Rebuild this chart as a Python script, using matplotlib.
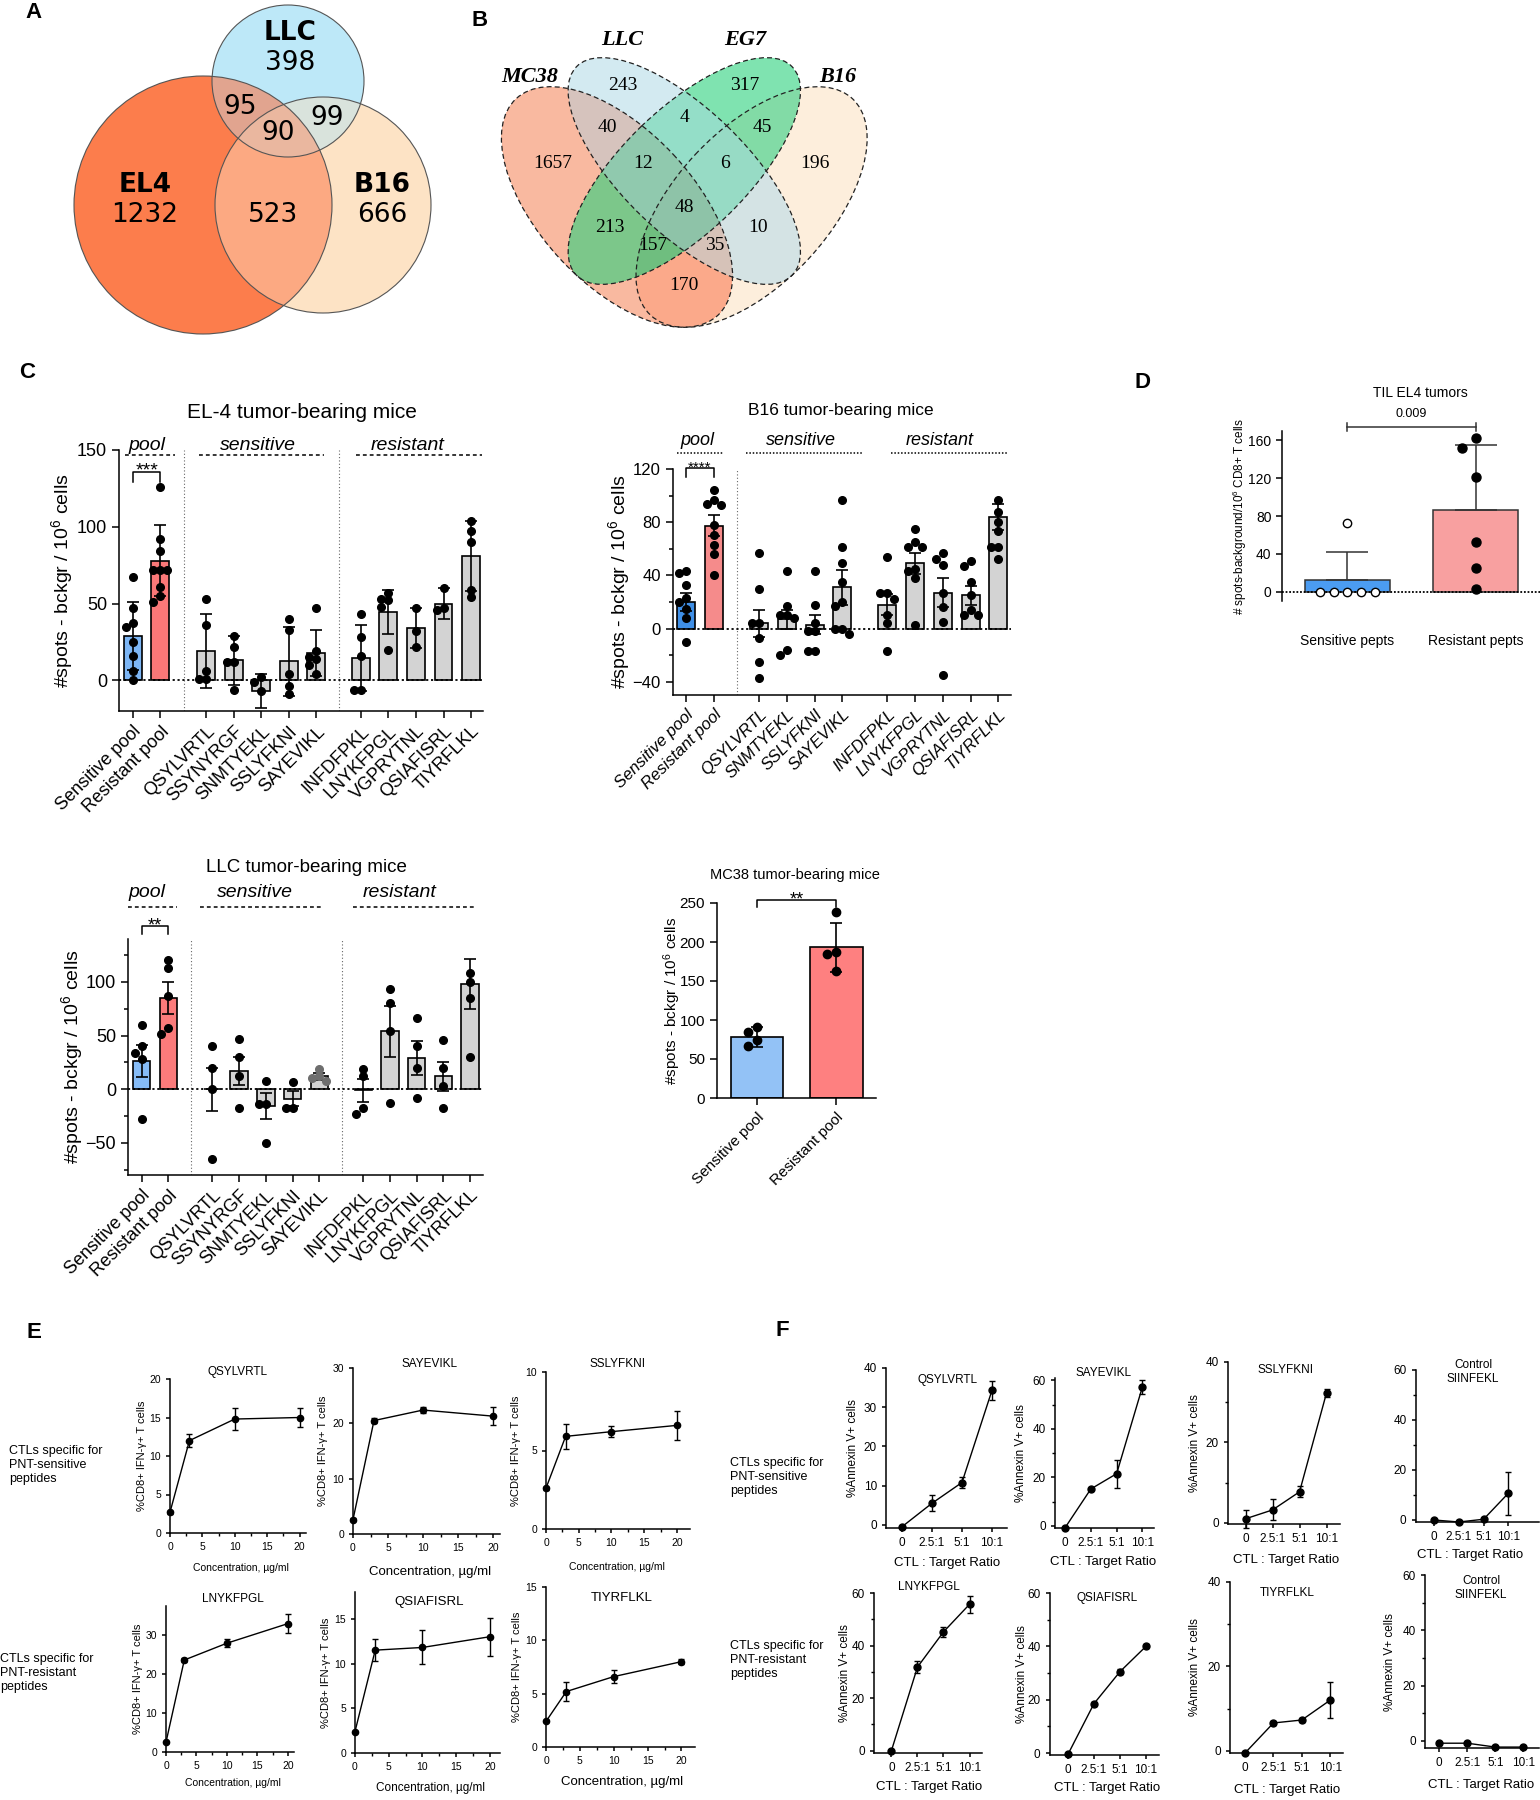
import numpy as np
import matplotlib
matplotlib.use('Agg')
import matplotlib.pyplot as plt
from matplotlib.patches import Circle, Ellipse
from matplotlib.colors import to_rgba
from matplotlib.ticker import MultipleLocator
from matplotlib.transforms import blended_transform_factory, offset_copy

plt.rcParams['font.family'] = ['Liberation Sans', 'DejaVu Sans']
plt.rcParams['mathtext.fontset'] = 'custom'
plt.rcParams['mathtext.rm'] = 'Liberation Sans'
plt.rcParams['mathtext.it'] = 'Liberation Sans:italic'
plt.rcParams['axes.linewidth'] = 1.1

#------------------------------------------------------
# data
#------------------------------------------------------
# A : venn EL4 / LLC / B16  (code = EL4 LLC B16)
venn3_sets = ['EL4', 'LLC', 'B16']
venn3_regions = ['100', '010', '001', '110', '101', '011', '111']
venn3_counts = [1232, 398, 666, 95, 523, 99, 90]

# B : venn MC38 / LLC / EG7 / B16
venn4_sets = ['MC38', 'LLC', 'EG7', 'B16']
venn4_regions = ['1000', '0100', '0010', '0001', '1100', '0110', '0011', '1010',
                 '0101', '1001', '1110', '0111', '1011', '1101', '1111']
venn4_counts = [1657, 243, 317, 196, 40, 4, 45, 213, 10, 170, 12, 6, 157, 35, 48]

# C : ELISpot
el4_labels = ['Sensitive pool', 'Resistant pool', 'QSYLVRTL', 'SSYNYRGF', 'SNMTYEKL',
              'SSLYFKNI', 'SAYEVIKL', 'INFDFPKL', 'LNYKFPGL', 'VGPRYTNL', 'QSIAFISRL', 'TIYRFLKL']
el4_mean = [29, 78, 19, 13, -7, 12.5, 18, 14.5, 44.5, 34, 50, 81]
el4_err = [22, 23, 24, 16, 11, 22.5, 15, 21.5, 14.5, 13, 10, 23]
el4_pts = [[67, 47, 37, 35, 25, 16, 6, 0], [126, 92, 84, 72, 72, 72, 61, 55, 51],
           [53, 36, 6, 1, 1], [29, 22, 12, 12, -6], [2, -1, -7], [40, 33, 4, -4, -9],
           [47, 19, 15, 14, 10, 4], [43, 28, 16, -6, -6], [57, 53, 52, 48, 20],
           [47, 32, 22], [60, 47, 46], [104, 97, 90, 59, 54]]

b16_labels = ['Sensitive pool', 'Resistant pool', 'QSYLVRTL', 'SNMTYEKL', 'SSLYFKNI',
              'SAYEVIKL', 'INFDFPKL', 'LNYKFPGL', 'VGPRYTNL', 'QSIAFISRL', 'TIYRFLKL']
b16_mean = [20, 77.5, 4, 7, 3, 31, 18, 49, 27, 25, 84]
b16_err = [7, 8, 10, 7, 7, 13, 8, 8, 11, 7, 10]
b16_pts = [[43, 42, 33, 23, 20, 15, 8, -10], [104, 97, 94, 93, 78, 70, 63, 56, 40],
           [57, 30, 4, 4, -7, -25, -37], [43, 17, 10, 10, 8, -16, -20],
           [43, 18, 4, -2, -2, -17, -17], [97, 61, 49, 35, 20, 17, 0, 0, -4],
           [54, 27, 27, 22, 10, 4, -17], [75, 65, 61, 61, 45, 43, 38, 3],
           [57, 52, 48, 27, 16, 5, -35], [51, 47, 35, 25, 14, 10, 10],
           [97, 88, 80, 73, 61, 61, 52]]

llc_labels = el4_labels
llc_mean = [26, 85, 0, 17, -16, -9, 12, -1, 54, 29, 12, 98]
llc_err = [15, 14.5, 20, 13, 12, 7, 3, 10.5, 24, 15.5, 13.5, 23]
llc_pts = [[60, 40, 34, 28, -28], [120, 113, 87, 57, 51], [40, 20, 0, -65], [47, 30, 12, -18],
           [8, -14, -14, -50], [7, -18, -18], [19, 12, 10, 8], [19, 12, -18, -23],
           [93, 80, 54, -13], [66, 40, 20, -8], [46, 20, 3, -18], [108, 100, 85, 30]]

mc38_labels = ['Sensitive pool', 'Resistant pool']
mc38_mean = [78, 193]
mc38_err = [12.5, 31.5]
mc38_pts = [[91, 85, 75, 67], [238, 187, 185, 163]]

# D : TIL EL4
til_labels = ['Sensitive pepts', 'Resistant pepts']
til_mean = [12, 86]
til_err_up = [30, 69]
til_pts = [[73, 0, 0, 0, 0, 0], [163, 152, 121, 53, 25, 3]]

# E : IFN-g vs peptide concentration
conc = [0, 3, 10, 20]
ifn_names = ['QSYLVRTL', 'SAYEVIKL', 'SSLYFKNI', 'LNYKFPGL', 'QSIAFISRL', 'TIYRFLKL']
ifn_vals = [[2.7, 12.0, 14.8, 15.0], [2.6, 20.5, 22.4, 21.3], [2.6, 5.9, 6.2, 6.6],
            [2.5, 23.5, 27.8, 32.8], [2.4, 11.5, 11.8, 13.0], [2.4, 5.2, 6.6, 8.0]]
ifn_err = [[0.2, 0.8, 1.4, 1.2], [0.3, 0.4, 0.5, 1.6], [0.1, 0.8, 0.35, 0.9],
           [0.1, 0.5, 1.1, 2.4], [0.1, 1.2, 1.9, 2.1], [0.1, 0.85, 0.6, 0.25]]

# F : killing vs CTL:target ratio
ratio_labels = ['0', '2.5:1', '5:1', '10:1']
kill_names = ['QSYLVRTL', 'SAYEVIKL', 'SSLYFKNI', 'Control\nSIINFEKL',
              'LNYKFPGL', 'QSIAFISRL', 'TIYRFLKL', 'Control\nSIINFEKL']
kill_vals = [[-0.5, 5.5, 10.8, 34.3], [-0.8, 15.2, 21.5, 57.3], [1.0, 3.2, 7.7, 32.3],
             [0.0, -0.8, 0.3, 10.7], [0.0, 31.8, 45.2, 55.7], [-0.5, 18.5, 30.5, 40.0],
             [-0.5, 6.6, 7.3, 12.0], [-0.8, -0.8, -2.2, -2.2]]
kill_err = [[0.3, 2.0, 1.3, 2.5], [0.3, 0.5, 5.7, 2.8], [2.3, 2.6, 1.4, 1.1],
            [0.3, 0.2, 0.3, 8.5], [0.3, 2.2, 2.0, 3.2], [0.2, 0.7, 0.9, 0.8],
            [0.3, 0.5, 0.5, 4.3], [0.5, 0.3, 0.3, 0.4]]

#------------------------------------------------------
# helpers
#------------------------------------------------------
W, H = 1540, 1800
fig = plt.figure(figsize=(W / 100, H / 100), dpi=100)
bg = fig.add_axes([0, 0, 1, 1])
bg.set_zorder(-5)


def px_axes(box):
    l, t, r, b = box
    ax = fig.add_axes([l / W, 1 - b / H, (r - l) / W, (b - t) / H])
    ax.set_facecolor('none')
    return ax


def frac(box, x, y):
    l, t, r, b = box
    return (x - l) / (r - l), (b - y) / (b - t)


def put_ylabel(ax, box, text, xc, fs):
    ax.set_ylabel(text, fontsize=fs, va='center', ha='center')
    ax.yaxis.set_label_coords(*frac(box, xc, (box[1] + box[3]) / 2))


def put_xlabel(ax, box, text, xc, yc, fs):
    ax.set_xlabel(text, fontsize=fs, va='center', ha='center')
    ax.xaxis.set_label_coords(*frac(box, xc, yc))


def put_title(ax, box, text, x, y, fs, **kw):
    ax.text(*frac(box, x, y), text, transform=ax.transAxes, ha='center', va='center',
            fontsize=fs, clip_on=False, **kw)


def swarm_x(ax, x0, vals, gap):
    placed, out = [], []
    inv = ax.transData.inverted()
    for v in vals:
        px0, py = ax.transData.transform((x0, v))
        for k in (0, -1, 1, -2, 2, -3, 3, -4, 4):
            cand = px0 + k * gap
            if all(np.hypot(cand - qx, py - qy) >= gap * 0.999 for qx, qy in placed):
                break
        placed.append((cand, py))
        out.append(inv.transform((cand, py))[0])
    return out


def paint_regions(masks, regions, colors, x0, x1, y0, y1):
    img = np.zeros(masks[0].shape + (4,))
    for code, col in zip(regions, colors):
        sel = np.ones(masks[0].shape, bool)
        for m, bit in zip(masks, code):
            sel &= m if bit == '1' else ~m
        img[sel] = to_rgba(col)
    bg.imshow(img, extent=(x0, x1, y1, y0), aspect='auto', interpolation='bilinear', zorder=1)


def group_pos(sizes, starts):
    pos = []
    for n, s in zip(sizes, starts):
        pos += [s + i for i in range(n)]
    return pos


def group_heads(ax, spans, text_x, names, y_line, y_text, ls, fs):
    tr = blended_transform_factory(ax.transData, ax.transAxes)
    for (a, b), tx, name in zip(spans, text_x, names):
        ax.plot([a, b], [y_line, y_line], color='black', lw=1.1, ls=ls, transform=tr, clip_on=False)
        ax.text(tx, y_text, name, transform=tr, ha='center', va='center', style='italic', fontsize=fs)


def sig_bracket(ax, x0, x1, y_top, y_bot, label, fs):
    tr = blended_transform_factory(ax.transData, ax.transAxes)
    ax.plot([x0, x0, x1, x1], [y_bot, y_top, y_top, y_bot], color='black', lw=1.1,
            transform=tr, clip_on=False)
    # asterisks sit high in the glyph box: put the baseline just under the bracket
    tr_txt = offset_copy(tr, fig=fig, y=-4, units='dots')
    ax.text((x0 + x1) / 2, y_top, label, transform=tr_txt, ha='center', va='baseline', fontsize=fs)


def bar_dots(ax, pos, means, errs, pts, colors, gap, ms, width=0.65, dot_colors=None, lw=1.2):
    ax.bar(pos, means, width=width, color=colors, edgecolor='black', linewidth=lw, zorder=2)
    ax.errorbar(pos, means, yerr=errs, fmt='none', ecolor='black', elinewidth=lw,
                capsize=4, capthick=lw, zorder=3)
    for i, (x0, vals) in enumerate(zip(pos, pts)):
        dc = dot_colors[i] if dot_colors else 'black'
        ax.plot(swarm_x(ax, x0, vals, gap), vals, 'o', color=dc, ms=ms, zorder=4, clip_on=False)


def style_axes(ax, fs, tick_len=5):
    for s in ('top', 'right'):
        ax.spines[s].set_visible(False)
    ax.tick_params(labelsize=fs, length=tick_len, width=1.1)


#------------------------------------------------------
# A, B : venn diagrams (drawn in pixel space)
#------------------------------------------------------
venn3_circles = [(203, 205, 129), (288, 81, 76), (323, 205, 108)]
venn3_colors = ['#fc7d4c', '#bde8f8', '#fde3c5', '#e1a48f', '#fca982', '#d9e3dc', '#eab79f']
venn3_xy = [(145, 215), (290, 63), (382, 215), (240, 107), (273, 215), (327, 118), (278, 133)]
venn3_name_xy = [(145, 185), (290, 33), (382, 185)]

X, Y = np.meshgrid(np.arange(50, 450) + 0.5, np.arange(0, 345) + 0.5)
masks = [(X - cx) ** 2 + (Y - cy) ** 2 <= r ** 2 for cx, cy, r in venn3_circles]
paint_regions(masks, venn3_regions, venn3_colors, 50, 450, 0, 345)
for cx, cy, r in venn3_circles:
    bg.add_patch(Circle((cx, cy), r, fill=False, ec='#555555', lw=0.8, zorder=2))
for (x, y), n in zip(venn3_xy, venn3_counts):
    bg.text(x, y, str(n), ha='center', va='center', fontsize=19, family='DejaVu Sans', zorder=3)
for (x, y), n in zip(venn3_name_xy, venn3_sets):
    bg.text(x, y, n, ha='center', va='center', fontsize=19, family='DejaVu Sans',
            weight='bold', zorder=3)

venn4_ell = [(617, 207, 148, 77, 47), (684.3, 171, 150, 62, 44),
             (684.3, 171, 150, 62, -44), (751.6, 207, 148, 77, -47)]
venn4_colors = ['#f9b9a0', '#d3eaf1', '#7fe3b0', '#fdeedc', '#d6c3bd', '#94dec8', '#82dba6',
                '#7cc78a', '#d4e3e4', '#fba98a', '#90c9ae', '#97dbc5', '#6fbe7f', '#d6c2b8', '#8ec3a8']
venn4_xy = [(553, 163), (623, 86), (745, 86), (815, 163), (607, 127), (684, 118), (762, 127),
            (610, 228), (758, 228), (684, 285), (643, 163), (725, 163), (653, 245), (715, 245),
            (684, 208)]
venn4_name_xy = [(530, 77), (622, 40), (745, 40), (838, 77)]

X, Y = np.meshgrid(np.arange(440, 890) + 0.5, np.arange(40, 345) + 0.5)
masks = []
for cx, cy, a, b, ang in venn4_ell:
    t = np.deg2rad(ang)
    u = (X - cx) * np.cos(t) + (Y - cy) * np.sin(t)
    v = -(X - cx) * np.sin(t) + (Y - cy) * np.cos(t)
    masks.append((u / a) ** 2 + (v / b) ** 2 <= 1)
paint_regions(masks, venn4_regions, venn4_colors, 440, 890, 40, 345)
for cx, cy, a, b, ang in venn4_ell:
    bg.add_patch(Ellipse((cx, cy), 2 * a, 2 * b, angle=ang, fill=False, ec='#222222',
                         lw=0.9, ls=(0, (4, 2.5)), zorder=2))
for (x, y), n in zip(venn4_xy, venn4_counts):
    bg.text(x, y, str(n), ha='center', va='center', fontsize=14, family='Liberation Serif', zorder=3)
for (x, y), n in zip(venn4_name_xy, venn4_sets):
    bg.text(x, y, n, ha='center', va='center', fontsize=16, family='Liberation Serif',
            weight='bold', style='italic', zorder=3)

#------------------------------------------------------
# C : EL-4
#------------------------------------------------------
box = (119, 450, 483, 711)
ax = px_axes(box)
pos = group_pos([2, 5, 5], [0, 2.65, 8.25])
ax.set_xlim(-0.5, 12.68)
ax.set_ylim(-20, 150)
ax.set_yticks([0, 50, 100, 150])
style_axes(ax, 13)
ax.axhline(0, color='black', lw=1.3, ls=(0, (1.2, 1.5)), zorder=2.5)
for xv in (1.85, 7.45):
    ax.axvline(xv, color='#666666', lw=0.8, ls=(0, (1, 2)), zorder=1)
bar_dots(ax, pos, el4_mean, el4_err, el4_pts, ['#7db6f5', '#fa7878'] + ['#d3d3d3'] * 10, 7, 5.5)
ax.set_xticks(pos)
ax.set_xticklabels(el4_labels, rotation=45, ha='right', rotation_mode='anchor', fontsize=13)
put_ylabel(ax, box, '#spots - bckgr / 10$^6$ cells', 62, 14)
put_title(ax, box, 'EL-4 tumor-bearing mice', 302, 413, 15)
group_heads(ax, [(-0.29, 1.52), (2.39, 6.92), (8.08, 12.64)], [0.51, 4.53, 9.96],
            ['pool', 'sensitive', 'resistant'], 0.981, 1.017, (0, (2.5, 2)), 14)
sig_bracket(ax, 0, 1, 0.916, 0.877, '***', 14)

#------------------------------------------------------
# C : B16
#------------------------------------------------------
box = (672.5, 469, 1011, 695)
ax = px_axes(box)
pos = group_pos([2, 4, 5], [0, 2.64, 7.27])
ax.set_xlim(-0.49, 11.73)
ax.set_ylim(-50, 120)
ax.set_yticks([-40, 0, 40, 80, 120])
ax.yaxis.set_minor_locator(MultipleLocator(20))
style_axes(ax, 12)
ax.tick_params(which='minor', length=3, width=1.1)
ax.axhline(0, color='black', lw=1.3, ls=(0, (1.2, 1.5)), zorder=2.5)
ax.axvline(1.84, color='#666666', lw=0.8, ls=(0, (1, 2)), zorder=1)
bar_dots(ax, pos, b16_mean, b16_err, b16_pts, ['#3f8fe6', '#f58b8b'] + ['#d3d3d3'] * 9, 7, 5.5)
ax.set_xticks(pos)
ax.set_xticklabels(b16_labels, rotation=45, ha='right', rotation_mode='anchor',
                   fontsize=12, style='italic')
put_ylabel(ax, box, '#spots - bckgr / 10$^6$ cells', 619, 14)
put_title(ax, box, 'B16 tumor-bearing mice', 841, 410, 12.5)
group_heads(ax, [(-0.31, 1.37), (2.15, 6.35), (7.4, 11.62)], [0.42, 4.14, 9.17],
            ['pool', 'sensitive', 'resistant'], 1.071, 1.128, (0, (1, 1.2)), 13)
sig_bracket(ax, 0, 1, 1.004, 0.965, '****', 11)

#------------------------------------------------------
# D : TIL EL4
#------------------------------------------------------
box = (1282, 431, 1540, 601)
ax = px_axes(box)
ax.set_xlim(-0.51, 1.5)
ax.set_ylim(-10, 170)
ax.set_yticks([0, 40, 80, 120, 160])
style_axes(ax, 10, 4)
ax.spines['bottom'].set_visible(False)
ax.axhline(0, color='black', lw=1.3, ls=(0, (1, 1)), zorder=2.5)
ax.bar([0, 1], til_mean, width=0.66, color=['#4b9cf2', '#f8a0a0'], edgecolor='#333333', lw=1.1, zorder=2)
ax.errorbar([0, 1], til_mean, yerr=[[0, 0], til_err_up], fmt='none', ecolor='#333333',
            elinewidth=1.1, capsize=15, capthick=1.1, zorder=3)
ax.plot(swarm_x(ax, 0, til_pts[0], 13.7), til_pts[0], 'o', mfc='white', mec='black',
        mew=1, ms=6, zorder=4, clip_on=False)
ax.plot(swarm_x(ax, 1, til_pts[1], 13.7), til_pts[1], 'o', color='black', ms=6.5, zorder=4, clip_on=False)
ax.set_xticks([0, 1])
ax.set_xticklabels(til_labels, fontsize=10)
ax.tick_params(axis='x', length=0, pad=24)
put_ylabel(ax, box, '# spots-background/10$^6$ CD8+ T cells', 1240, 8.5)
put_title(ax, box, 'TIL EL4 tumors', 1420, 393, 10)
tr = blended_transform_factory(ax.transData, ax.transAxes)
ax.plot([0, 1], [1.024, 1.024], color='#333333', lw=1.1, transform=tr, clip_on=False)
for xv in (0, 1):
    ax.plot([xv, xv], [1.0, 1.048], color='#333333', lw=1.1, transform=tr, clip_on=False)
ax.text(0.5, 1.10, '0.009', transform=tr, ha='center', va='center', fontsize=9)

#------------------------------------------------------
# C : LLC
#------------------------------------------------------
box = (128, 939, 483, 1175)
ax = px_axes(box)
pos = group_pos([2, 5, 5], [0, 2.65, 8.3])
ax.set_xlim(-0.51, 12.78)
ax.set_ylim(-80, 140)
ax.set_yticks([-50, 0, 50, 100])
ax.yaxis.set_minor_locator(MultipleLocator(25))
style_axes(ax, 13)
ax.tick_params(which='minor', length=3, width=1.1)
ax.axhline(0, color='black', lw=1.3, ls=(0, (1.2, 1.5)), zorder=2.5)
for xv in (1.84, 7.49):
    ax.axvline(xv, color='#666666', lw=0.8, ls=(0, (1, 2)), zorder=1)
bar_dots(ax, pos, llc_mean, llc_err, llc_pts, ['#86bcf7', '#fb7b7b'] + ['#d3d3d3'] * 10, 7, 5.5,
         dot_colors=['black'] * 6 + ['#6e6e6e'] + ['black'] * 5)
ax.set_xticks(pos)
ax.set_xticklabels(llc_labels, rotation=45, ha='right', rotation_mode='anchor', fontsize=13)
put_ylabel(ax, box, '#spots - bckgr / 10$^6$ cells', 72, 14)
put_title(ax, box, 'LLC tumor-bearing mice', 306, 868, 13.5)
group_heads(ax, [(-0.51, 1.32), (2.18, 6.79), (7.91, 12.52)], [0.2, 4.24, 9.67],
            ['pool', 'sensitive', 'resistant'], 1.136, 1.195, (0, (2.5, 2)), 14)
sig_bracket(ax, 0, 1, 1.055, 1.021, '**', 13)

#------------------------------------------------------
# C : MC38
#------------------------------------------------------
box = (717, 903, 876, 1098)
ax = px_axes(box)
ax.set_xlim(-0.506, 1.5)
ax.set_ylim(0, 250)
ax.set_yticks(range(0, 251, 50))
style_axes(ax, 11)
bar_dots(ax, [0, 1], mc38_mean, mc38_err, mc38_pts, ['#93c2f6', '#fe8080'], 9, 6, width=0.66)
ax.set_xticks([0, 1])
ax.set_xticklabels(mc38_labels, rotation=45, ha='right', rotation_mode='anchor', fontsize=11)
put_ylabel(ax, box, '#spots - bckgr / 10$^6$ cells', 672, 11)
put_title(ax, box, 'MC38 tumor-bearing mice', 795, 875, 10.5)
sig_bracket(ax, 0, 1, 1.015, 0.979, '**', 13)

#------------------------------------------------------
# E : IFN-g
#------------------------------------------------------
ifn_boxes = [(170, 1379, 306, 1533), (353, 1368, 500, 1534), (546, 1372, 690, 1529),
             (166, 1606, 294, 1752), (355, 1592, 500, 1753), (546, 1587, 695, 1747)]
ifn_xlim = [21, 21, 22, 21, 21.5, 22]
ifn_ylim = [20, 30, 10, 37.3, 18, 15]
ifn_yticks = [[0, 5, 10, 15, 20], [0, 10, 20, 30], [0, 5, 10], [0, 10, 20, 30],
              [0, 5, 10, 15], [0, 5, 10, 15]]
ifn_title_xy = [(238, 1372), (430, 1364), (617, 1364), (233, 1599), (429, 1602), (622, 1598)]
ifn_title_fs = [8.5, 8.5, 8.5, 8.5, 9.5, 9.5]
ifn_xlab = [(241, 1568, 7.5), (430, 1572, 9.5), (617, 1567, 7.5),
            (233, 1783, 7.5), (430, 1788, 8.5), (622, 1782, 9.5)]
ifn_ylab_x = [142, 323, 516, 138, 326, 517.5]

for i in range(6):
    box = ifn_boxes[i]
    ax = px_axes(box)
    ax.set_xlim(0, ifn_xlim[i])
    ax.set_ylim(0, ifn_ylim[i])
    ax.set_xticks([0, 5, 10, 15, 20])
    ax.xaxis.set_minor_locator(MultipleLocator(2.5))
    ax.set_yticks(ifn_yticks[i])
    style_axes(ax, 7.5, 3)
    ax.tick_params(which='minor', length=2, width=1)
    ax.errorbar(conc, ifn_vals[i], yerr=ifn_err[i], fmt='-o', color='black', ms=4.5, lw=1,
                elinewidth=1, capsize=2.5, capthick=1, clip_on=False, zorder=3)
    put_title(ax, box, ifn_names[i], *ifn_title_xy[i], ifn_title_fs[i])
    put_xlabel(ax, box, 'Concentration, µg/ml', ifn_xlab[i][0], ifn_xlab[i][1], ifn_xlab[i][2])
    put_ylabel(ax, box, '%CD8+ IFN-γ+ T cells', ifn_ylab_x[i], 8)

#------------------------------------------------------
# F : Annexin V killing
#------------------------------------------------------
kill_boxes = [(886, 1368, 1007, 1528), (1055, 1378, 1154, 1528), (1228, 1362, 1340, 1524),
              (1415.6, 1370, 1538.5, 1522), (874, 1593, 981.5, 1753), (1049.5, 1593, 1159, 1755),
              (1230, 1581.7, 1343, 1753), (1425, 1575, 1538.5, 1748.3)]
kill_xlim = [(-0.53, 3.5), (-0.39, 3.45), (-0.65, 3.5), (-0.75, 4.22),
             (-0.67, 3.46), (-0.71, 3.5), (-0.53, 3.45), (-0.51, 3.54)]
kill_ylim = [(-0.8, 40), (-0.9, 61), (-0.3, 40), (-0.8, 60),
             (-0.9, 60), (-0.75, 60), (-0.5, 40), (-2.64, 60)]
kill_yticks = [[0, 10, 20, 30, 40], [0, 20, 40, 60], [0, 20, 40], [0, 20, 40, 60],
               [0, 20, 40, 60], [0, 20, 40, 60], [0, 20, 40], [0, 20, 40, 60]]
kill_title_xy = [(947.5, 1380), (1103, 1373), (1286, 1370), (1473, 1372),
                 (929, 1587), (1107, 1598), (1287.5, 1593), (1481, 1588)]
kill_xlab_xy = [(947.5, 1563), (1103, 1562), (1286, 1560), (1470.5, 1555),
                (929, 1787), (1107, 1788), (1287.5, 1790), (1481, 1785)]
kill_ylab_x = [853, 1021, 1195, None, 845.5, 1022, 1195, 1390]

for i in range(8):
    box = kill_boxes[i]
    ax = px_axes(box)
    ax.set_xlim(*kill_xlim[i])
    ax.set_ylim(*kill_ylim[i])
    ax.set_yticks(kill_yticks[i])
    if kill_yticks[i][1] == 20:
        ax.yaxis.set_minor_locator(MultipleLocator(10))
    style_axes(ax, 8.5, 3)
    ax.tick_params(which='minor', length=2, width=1)
    xs = range(len(ratio_labels))
    ax.errorbar(xs, kill_vals[i], yerr=kill_err[i], fmt='-o', color='black', ms=5, lw=1,
                elinewidth=1, capsize=2.5, capthick=1, clip_on=False, zorder=3)
    ax.set_xticks(list(xs))
    ax.set_xticklabels(ratio_labels, fontsize=8.5)
    put_title(ax, box, kill_names[i], *kill_title_xy[i], 8.5, linespacing=1.2)
    put_xlabel(ax, box, 'CTL : Target Ratio', *kill_xlab_xy[i], 9.5)
    if kill_ylab_x[i] is not None:
        put_ylabel(ax, box, '%Annexin V+ cells', kill_ylab_x[i], 8.5)

#------------------------------------------------------
# panel letters and row captions
#------------------------------------------------------
for letter, (x, y) in zip('ABCDEF', [(33, 13), (480, 20), (27, 373), (1143, 383), (34, 1333), (782, 1330)]):
    bg.text(x, y, letter, ha='center', va='center', fontsize=16, weight='bold')

rows = [('CTLs specific for\nPNT-sensitive\npeptides', 9, 1465),
        ('CTLs specific for\nPNT-resistant\npeptides', 0, 1673),
        ('CTLs specific for\nPNT-sensitive\npeptides', 730, 1477),
        ('CTLs specific for\nPNT-resistant\npeptides', 730, 1660)]
for txt, x, y in rows:
    bg.text(x, y, txt, ha='left', va='center', fontsize=9, linespacing=1.25)

bg.set_xlim(0, W)
bg.set_ylim(H, 0)
bg.axis('off')

fig.savefig('out.png', dpi=100)
